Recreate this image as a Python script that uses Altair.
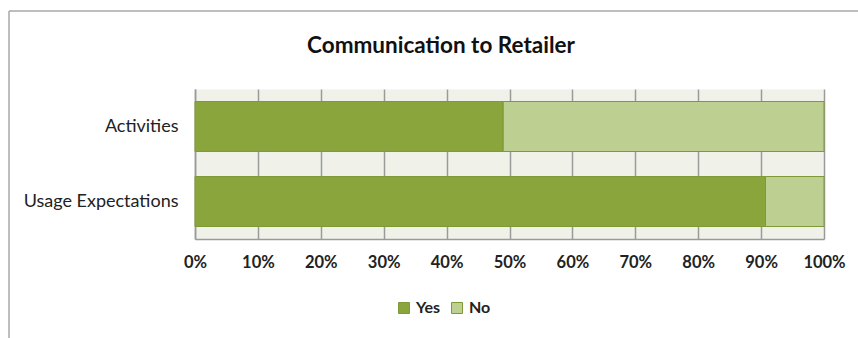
import altair as alt
import pandas as pd

# ---- data ----
categories = ["Activities", "Usage Expectations"]
yes_values = [0.49, 0.907]
no_values = [0.51, 0.093]
series = ["Yes", "No"]
colors = ["#8AA53C", "#BDD092"]
x_ticks = [0, 0.1, 0.2, 0.3, 0.4, 0.5, 0.6, 0.7, 0.8, 0.9, 1.0]
chart_title = "Communication to Retailer"

rows = []
for cat, y, n in zip(categories, yes_values, no_values):
    rows.append({"category": cat, "series": series[0], "value": y, "order": 0})
    rows.append({"category": cat, "series": series[1], "value": n, "order": 1})
df = pd.DataFrame(rows)

FONT = "Lato"

bars = alt.Chart(df).mark_bar(stroke="#7E9936", strokeWidth=1).encode(
    y=alt.Y(
        "category:N",
        sort=categories,
        title=None,
        scale=alt.Scale(paddingInner=1 / 3, paddingOuter=1 / 6),
        axis=alt.Axis(
            domain=True, domainColor="#9A9A9A", domainWidth=1.5,
            ticks=False, grid=False, labelPadding=17,
            labelFont=FONT, labelFontSize=18, labelColor="#222222",
        ),
    ),
    x=alt.X(
        "value:Q",
        stack="zero",
        title=None,
        scale=alt.Scale(domain=[0, 1], nice=False),
        axis=alt.Axis(
            format=".0%", values=x_ticks, grid=True, gridColor="#9A9A9A",
            gridWidth=1.5, domain=True, domainColor="#9A9A9A", domainWidth=1.5,
            ticks=False, labelPadding=15, labelFont=FONT, labelFontSize=16.5,
            labelFontWeight="bold", labelColor="#222222", labelFlush=False,
        ),
    ),
    color=alt.Color(
        "series:N",
        sort=series,
        scale=alt.Scale(domain=series, range=colors),
        legend=alt.Legend(
            title=None, orient="none", legendX=201, legendY=211,
            direction="horizontal", symbolType="square", symbolSize=121,
            symbolStrokeColor="#7E9936", symbolStrokeWidth=1,
            labelFont=FONT, labelFontSize=16, labelFontWeight="bold",
            labelColor="#222222", labelOffset=4, columnPadding=8,
        ),
    ),
    order=alt.Order("order:Q"),
)

frame_df = pd.DataFrame({"k": [0]})
frame_left = alt.Chart(frame_df).mark_rule(color="#A8A8A8", strokeWidth=1.5).encode(
    x=alt.value(-186), y=alt.value(-78), y2=alt.value(250)
)
frame_top = alt.Chart(frame_df).mark_rule(color="#A8A8A8", strokeWidth=1.5).encode(
    x=alt.value(-186), x2=alt.value(664), y=alt.value(-78)
)

title_text = alt.Chart(pd.DataFrame({"t": [chart_title]})).mark_text(
    font=FONT, fontSize=22.5, fontWeight="bold", color="#111111",
    align="center", baseline="middle",
).encode(text="t:N", x=alt.value(246), y=alt.value(-43))

chart = alt.layer(frame_left, frame_top, bars, title_text).properties(
    width=629,
    height=150,
    autosize=alt.AutoSizeParams(type="none"),
    padding={"left": 195, "top": 89, "right": 34, "bottom": 99},
    background="white",
).configure_view(fill="#F0F2EA", stroke="transparent")

chart.save("out.html", embed_options={"renderer": "svg", "actions": False})
